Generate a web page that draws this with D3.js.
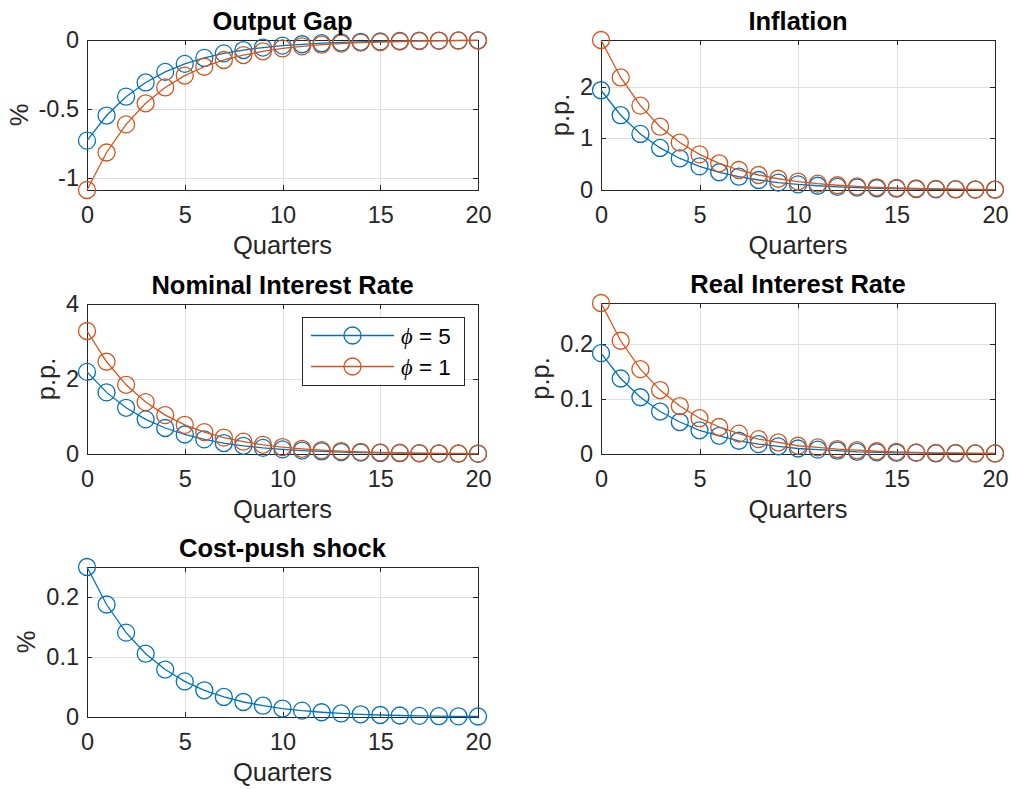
<!DOCTYPE html>
<html>
<head>
<meta charset="utf-8">
<script src="https://cdn.jsdelivr.net/npm/d3@7"></script>
<style>
  body { margin: 0; background: #fff; }
  svg { display: block; font-family: "Liberation Sans", Arial, Helvetica, sans-serif; }
  .grid line { stroke: #dfdfdf; stroke-width: 1; shape-rendering: crispEdges; }
  .grid path { display: none; }
  .axis path { display: none; }
  .axis line { stroke: #262626; stroke-width: 1; shape-rendering: crispEdges; }
  .axis text { font-size: 23.5px; fill: #262626; font-family: "Liberation Sans", Arial, sans-serif; }
  .title { font-size: 25.5px; font-weight: bold; fill: #000; }
  .label { font-size: 25.5px; fill: #262626; }
  .legend text { font-size: 22.5px; fill: #000; }
</style>
</head>
<body>
<script>
// quarters after the cost-push shock
var quarters = [0, 1, 2, 3, 4, 5, 6, 7, 8, 9, 10, 11, 12, 13, 14, 15, 16, 17, 18, 19, 20];
var xTicks = [0, 5, 10, 15, 20];

// phi = 5 (blue) and phi = 1 (orange) responses
var outputGapPhi5 = [-0.73, -0.548, -0.411, -0.308, -0.231, -0.173, -0.130, -0.097, -0.073, -0.055, -0.041, -0.031, -0.023, -0.017, -0.013, -0.010, -0.007, -0.005, -0.004, -0.003, -0.002];
var outputGapPhi1 = [-1.088, -0.816, -0.612, -0.459, -0.344, -0.258, -0.194, -0.145, -0.109, -0.082, -0.061, -0.046, -0.034, -0.026, -0.019, -0.015, -0.011, -0.008, -0.006, -0.005, -0.003];
var inflationPhi5 = [1.935, 1.451, 1.088, 0.816, 0.612, 0.459, 0.344, 0.258, 0.194, 0.145, 0.109, 0.082, 0.061, 0.046, 0.034, 0.026, 0.019, 0.015, 0.011, 0.008, 0.006];
var inflationPhi1 = [2.91, 2.183, 1.637, 1.228, 0.921, 0.691, 0.518, 0.388, 0.291, 0.218, 0.164, 0.123, 0.092, 0.069, 0.052, 0.039, 0.029, 0.022, 0.016, 0.012, 0.009];
var nominalPhi5 = [2.19, 1.643, 1.232, 0.924, 0.693, 0.520, 0.390, 0.292, 0.219, 0.164, 0.123, 0.092, 0.069, 0.052, 0.039, 0.029, 0.022, 0.016, 0.012, 0.009, 0.007];
var nominalPhi1 = [3.28, 2.46, 1.845, 1.384, 1.038, 0.778, 0.584, 0.438, 0.328, 0.246, 0.185, 0.139, 0.104, 0.078, 0.058, 0.044, 0.033, 0.025, 0.018, 0.014, 0.010];
var realPhi5 = [0.183, 0.137, 0.103, 0.077, 0.058, 0.043, 0.033, 0.024, 0.018, 0.014, 0.010, 0.008, 0.006, 0.004, 0.003, 0.002, 0.002, 0.001, 0.001, 0.001, 0.001];
var realPhi1 = [0.274, 0.2055, 0.154, 0.116, 0.087, 0.065, 0.049, 0.037, 0.027, 0.021, 0.015, 0.012, 0.009, 0.007, 0.005, 0.004, 0.003, 0.002, 0.002, 0.001, 0.001];
var costPush = [0.25, 0.1875, 0.1406, 0.1055, 0.0791, 0.0593, 0.0445, 0.0334, 0.025, 0.0188, 0.0141, 0.0106, 0.0079, 0.0059, 0.0045, 0.0033, 0.0025, 0.0019, 0.0014, 0.0011, 0.0008];

var seriesNames = ["= 5", "= 1"];
var colors = ["#0072BD", "#D95319"];

var panels = [
  {title: "Output Gap", ylabel: "%", series: [outputGapPhi5, outputGapPhi1], yDomain: [-1.088, 0], yTicks: [-1, -0.5, 0], box: [87, 40, 478, 190]},
  {title: "Inflation", ylabel: "p.p.", series: [inflationPhi5, inflationPhi1], yDomain: [0, 2.91], yTicks: [0, 1, 2], box: [601, 40, 995, 190]},
  {title: "Nominal Interest Rate", ylabel: "p.p.", series: [nominalPhi5, nominalPhi1], yDomain: [0, 4], yTicks: [0, 2, 4], box: [87, 304, 478, 454], legend: true},
  {title: "Real Interest Rate", ylabel: "p.p.", series: [realPhi5, realPhi1], yDomain: [0, 0.274], yTicks: [0, 0.1, 0.2], box: [601, 303, 995, 454]},
  {title: "Cost-push shock", ylabel: "%", series: [costPush], yDomain: [0, 0.25], yTicks: [0, 0.1, 0.2], box: [87, 567, 478, 717]}
];

var svg = d3.select("body").append("svg").attr("width", 1011).attr("height", 789);
svg.append("rect").attr("width", 1011).attr("height", 789).attr("fill", "#fff");

panels.forEach(function(p) {
  var w = p.box[2] - p.box[0], h = p.box[3] - p.box[1];
  var g = svg.append("g").attr("transform", "translate(" + p.box[0] + "," + p.box[1] + ")");

  var x = d3.scaleLinear().domain([0, 20]).range([0, w]);
  var y = d3.scaleLinear().domain(p.yDomain).range([h, 0]);

  g.append("rect").attr("width", w).attr("height", h).attr("fill", "#fff");

  // grid
  g.append("g").attr("class", "grid")
    .attr("transform", "translate(0," + h + ")")
    .call(d3.axisBottom(x).tickValues(xTicks).tickSize(-h).tickFormat(""));
  g.append("g").attr("class", "grid")
    .call(d3.axisLeft(y).tickValues(p.yTicks).tickSize(-w).tickFormat(""));

  // box
  g.append("rect").attr("width", w).attr("height", h)
    .attr("fill", "none").attr("stroke", "#262626").attr("stroke-width", 1)
    .attr("shape-rendering", "crispEdges");

  // ticks on all four sides, labels bottom and left
  g.append("g").attr("class", "axis")
    .attr("transform", "translate(0," + h + ")")
    .call(d3.axisBottom(x).tickValues(xTicks).tickSize(-5).tickPadding(16).tickFormat(function(d) { return String(d); }));
  g.append("g").attr("class", "axis")
    .call(d3.axisTop(x).tickValues(xTicks).tickSize(-5).tickFormat(""));
  var ya = g.append("g").attr("class", "axis")
    .call(d3.axisLeft(y).tickValues(p.yTicks).tickSize(-5).tickPadding(8).tickFormat(function(d) { return String(d); }));
  g.append("g").attr("class", "axis")
    .attr("transform", "translate(" + w + ",0)")
    .call(d3.axisRight(y).tickValues(p.yTicks).tickSize(-5).tickFormat(""));

  var maxW = 0;
  ya.selectAll("text").each(function() { maxW = Math.max(maxW, this.getComputedTextLength()); });

  // lines + markers
  var line = d3.line().x(function(d, i) { return x(quarters[i]); }).y(function(d) { return y(d); });
  p.series.forEach(function(s, k) {
    g.append("path").datum(s)
      .attr("d", line)
      .attr("fill", "none").attr("stroke", colors[k]).attr("stroke-width", 1.3);
    g.selectAll(".m" + k).data(s).enter().append("circle")
      .attr("class", "m" + k)
      .attr("cx", function(d, i) { return x(quarters[i]); })
      .attr("cy", function(d) { return y(d); })
      .attr("r", 8.5)
      .attr("fill", "none").attr("stroke", colors[k]).attr("stroke-width", 1.3);
  });

  g.append("text").attr("class", "title")
    .attr("x", w / 2).attr("y", -10.5)
    .attr("text-anchor", "middle").text(p.title);

  g.append("text").attr("class", "label")
    .attr("x", w / 2).attr("y", h + 64)
    .attr("text-anchor", "middle").text("Quarters");

  var lx = -8 - maxW - 11;
  g.append("text").attr("class", "label")
    .attr("transform", "translate(" + lx + "," + (h / 2) + ") rotate(-90)")
    .attr("text-anchor", "middle").text(p.ylabel);

  if (p.legend) {
    var lg = svg.append("g").attr("class", "legend");
    lg.append("rect").attr("x", 302).attr("y", 317).attr("width", 162).attr("height", 68)
      .attr("fill", "#fff").attr("stroke", "#262626").attr("stroke-width", 1)
      .attr("shape-rendering", "crispEdges");
    seriesNames.forEach(function(name, k) {
      var ly = 335.5 + k * 31;
      lg.append("line").attr("x1", 311).attr("x2", 394).attr("y1", ly).attr("y2", ly)
        .attr("stroke", colors[k]).attr("stroke-width", 1.3);
      lg.append("circle").attr("cx", 352.5).attr("cy", ly).attr("r", 8.5)
        .attr("fill", "none").attr("stroke", colors[k]).attr("stroke-width", 1.3);
      var t = lg.append("text").attr("x", 401).attr("y", ly + 8);
      t.append("tspan").attr("font-style", "italic").attr("font-family", "Liberation Serif, serif").text("\u03D5");
      t.append("tspan").text(" " + name);
    });
  }
});
</script>
</body>
</html>
